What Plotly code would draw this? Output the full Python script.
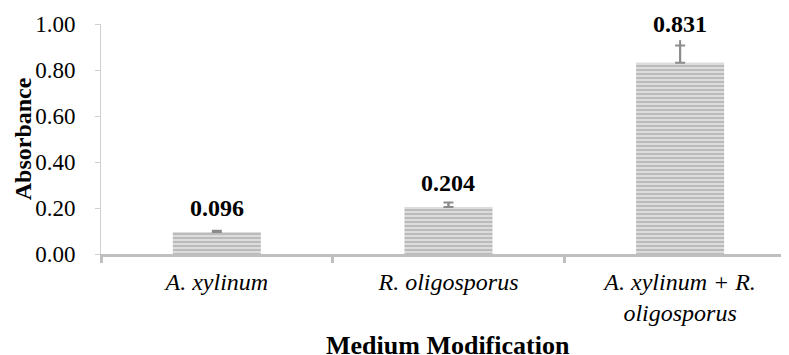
import plotly.graph_objects as go

categories = ["<i>A. xylinum</i>", "<i>R. oligosporus</i>", "<i>A. xylinum + R.</i><br><i>oligosporus</i>"]
absorbance = [0.096, 0.204, 0.831]
errors = [0.005, 0.02, 0.075]
errors_line_extent = [0.005, 0.02, 0.099]
value_labels = ["0.096", "0.204", "0.831"]
y_ticks = [0, 0.2, 0.4, 0.6, 0.8, 1.0]

FONT = "Times New Roman, Liberation Serif, DejaVu Serif, serif"
label_shift = [24, 24, 39]

fig = go.Figure()
fig.add_trace(go.Bar(
    x=categories, y=absorbance, width=0.38,
    marker=dict(color="#d4d4d4", line=dict(width=0),
                pattern=dict(shape="-", fgcolor="#9a9a9a", bgcolor="#dcdcdc", size=4, solidity=0.5)),
    error_y=dict(type="data", symmetric=False, array=errors, arrayminus=[0, 0, 0], visible=True,
                 color="#8c8c8c", thickness=2, width=5),
    showlegend=False, hoverinfo="skip",
))
# stem of the error bars (slightly longer than the cap on the last bar)
fig.add_trace(go.Scatter(
    x=categories, y=absorbance, mode="markers", marker=dict(size=1, opacity=0),
    error_y=dict(type="data", symmetric=False, array=errors_line_extent, arrayminus=[0, 0, 0], visible=True,
                 color="#8c8c8c", thickness=2, width=0),
    showlegend=False, hoverinfo="skip",
))

for c, v, t, s in zip(categories, absorbance, value_labels, label_shift):
    fig.add_annotation(x=c, y=v, text="<b>" + t + "</b>", showarrow=False, yanchor="middle", yshift=s,
                       font=dict(family=FONT, size=24, color="black"))

fig.add_annotation(x=0.505, y=-0.396, xref="paper", yref="paper", text="<b>Medium Modification</b>",
                   showarrow=False, xanchor="center", yanchor="middle",
                   font=dict(family=FONT, size=26, color="black"))
fig.add_annotation(x=-0.113, y=0.5, xref="paper", yref="paper", text="<b>Absorbance</b>", textangle=-90,
                   showarrow=False, xanchor="center", yanchor="middle",
                   font=dict(family=FONT, size=24, color="black"))

# the page adds an 8px body margin, so the figure is sized to fit the window from (8, 8)
fig.update_layout(
    width=781, height=347,
    margin=dict(l=93, r=0, t=16, b=101),
    paper_bgcolor="white", plot_bgcolor="white",
    font=dict(family=FONT, color="black"),
)
fig.update_xaxes(
    range=[-0.5, 2.47], showline=True, linecolor="#bfbfbf", linewidth=3, automargin=False,
    ticks="outside", tickson="boundaries", ticklen=6, tickwidth=3, tickcolor="#bfbfbf",
    tickfont=dict(family=FONT, size=24), showgrid=False, ticklabelstandoff=4,
)
fig.update_yaxes(
    range=[0, 1], tickvals=y_ticks, tickformat=".2f", showline=True, linecolor="#d0d0d0", linewidth=1,
    ticks="outside", ticklen=5, tickcolor="#d0d0d0", showgrid=False, zeroline=False, automargin=False,
    tickfont=dict(family=FONT, size=23), ticklabelstandoff=15,
)
fig.write_html("out.html")
